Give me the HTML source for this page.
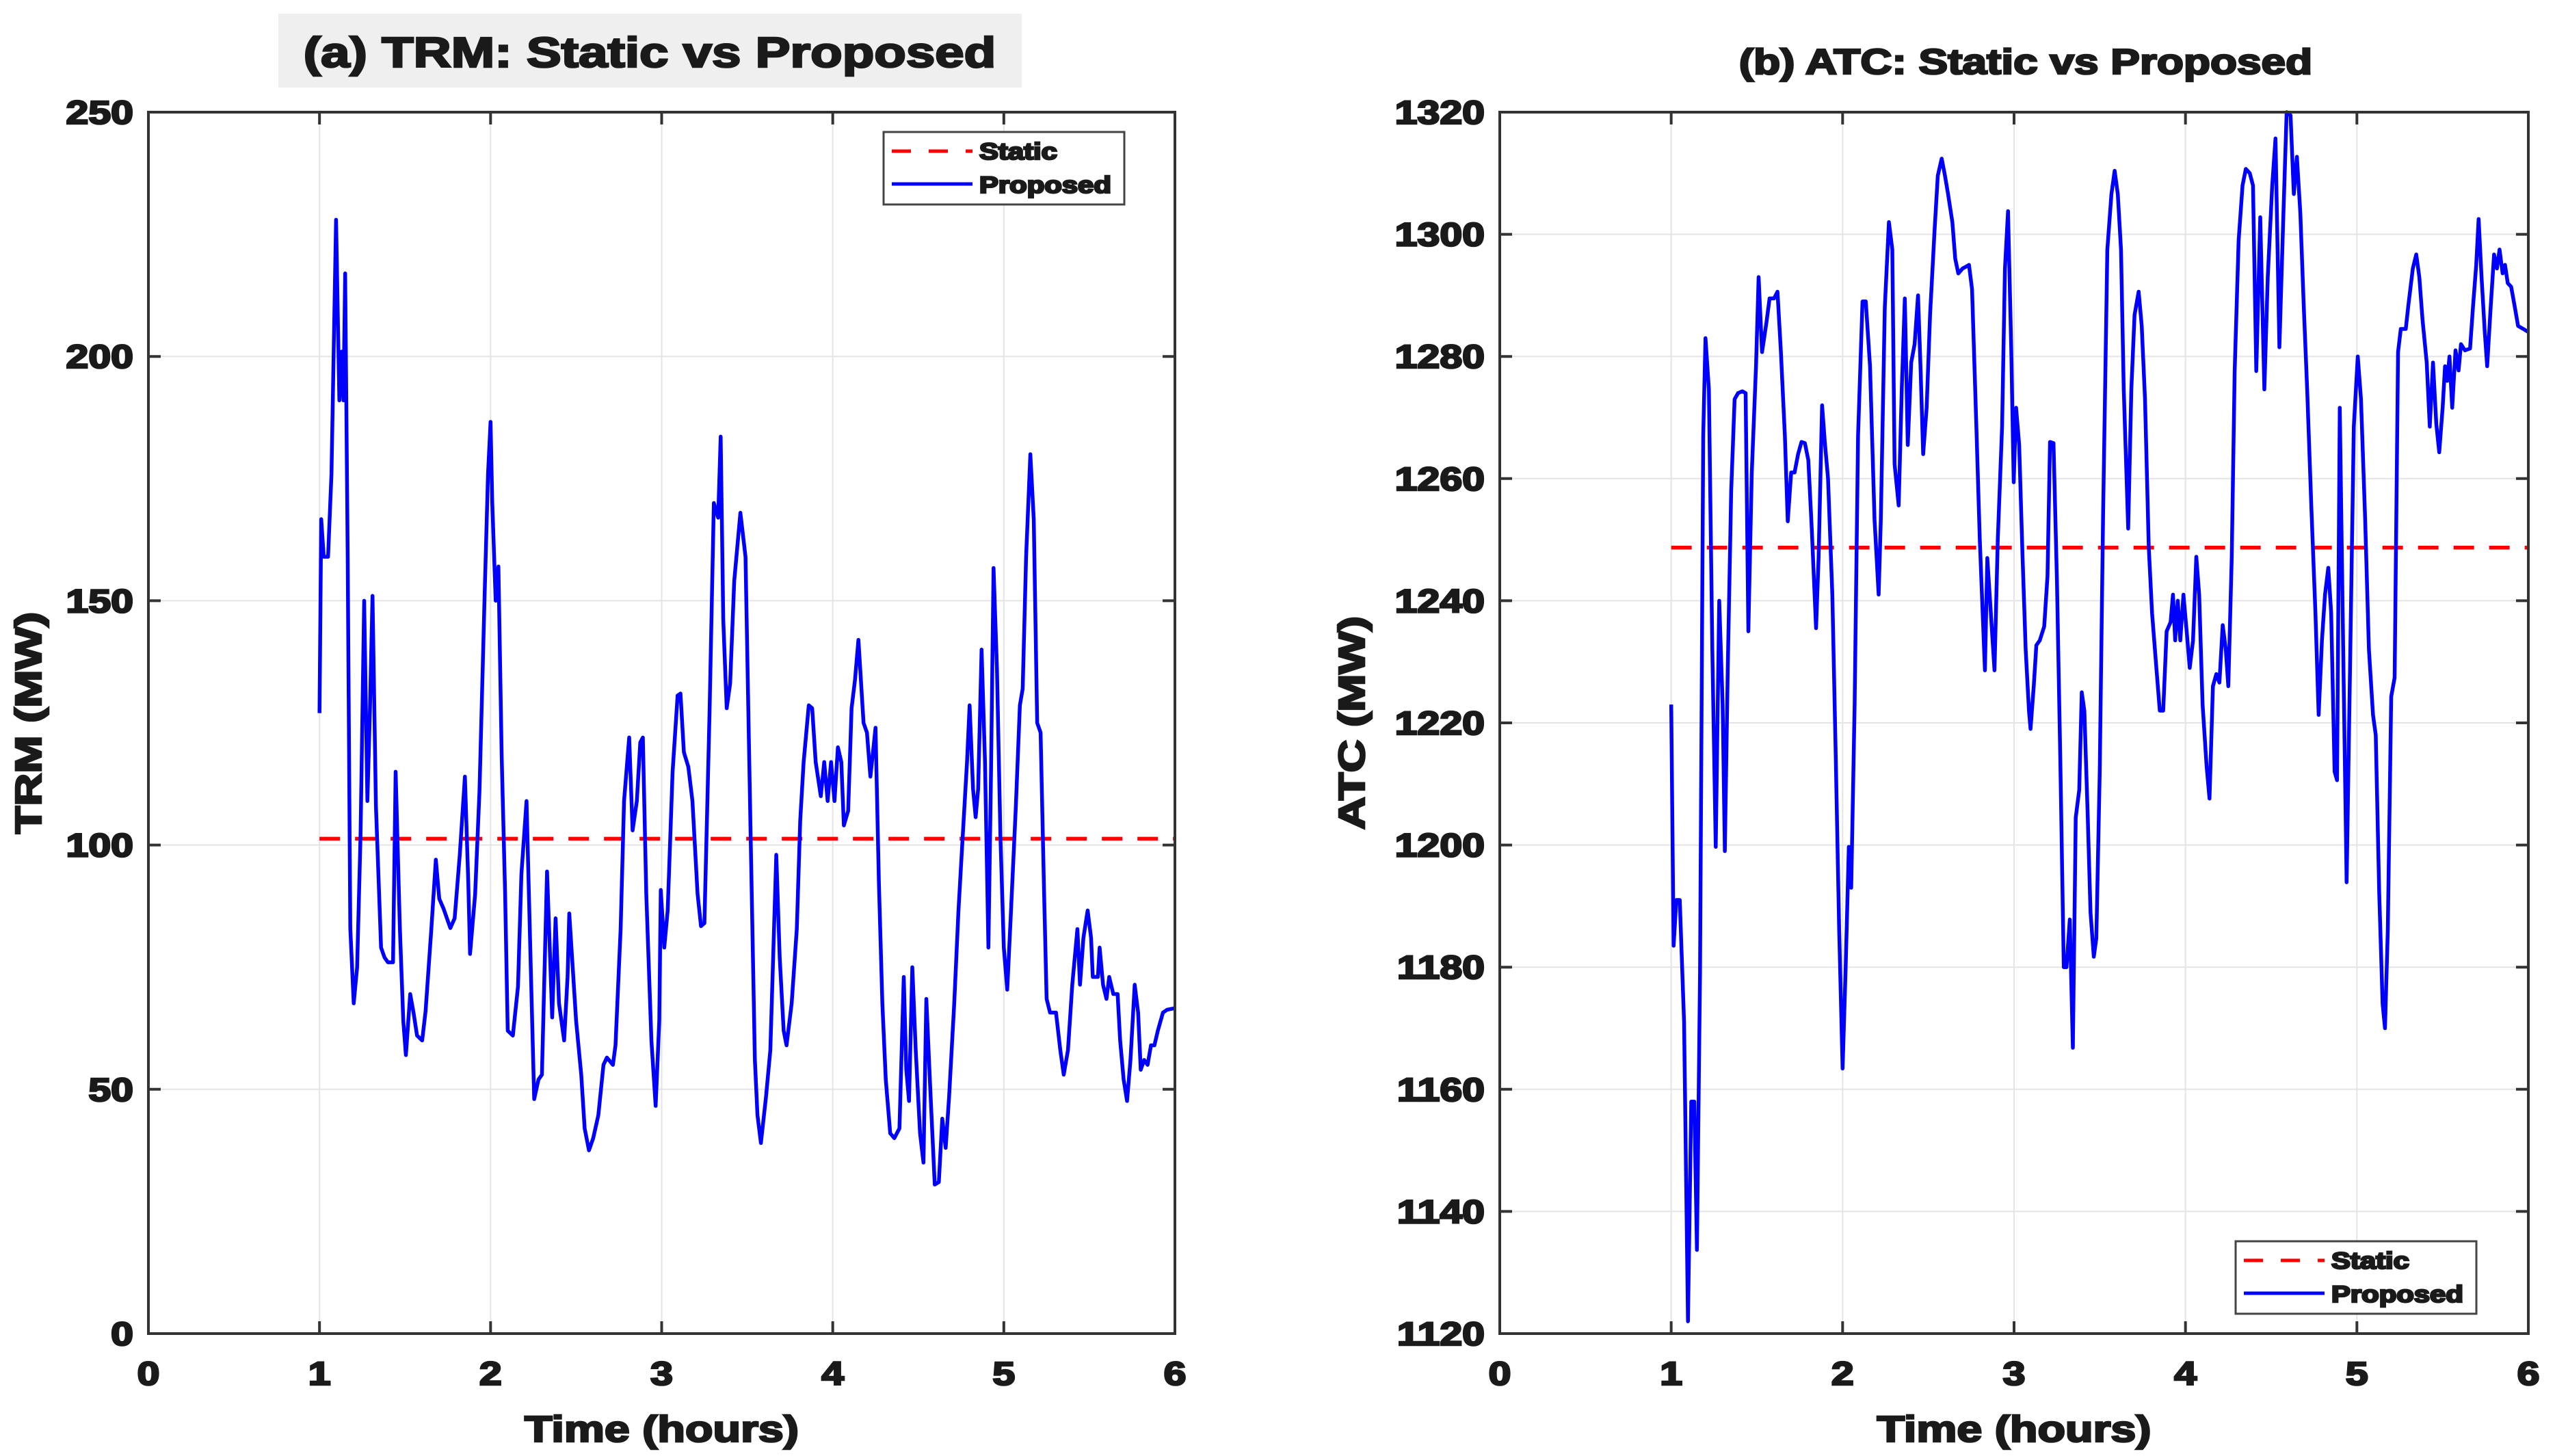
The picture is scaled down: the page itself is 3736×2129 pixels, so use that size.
<!DOCTYPE html>
<html><head><meta charset="utf-8">
<style>
html,body{margin:0;padding:0;background:#fff;}
svg{display:block;}
text{font-family:"Liberation Sans",Arial,sans-serif;font-weight:bold;fill:#1a1a1a;stroke:#1a1a1a;stroke-width:2.6px;}
</style></head>
<body>
<svg id="fig" width="3736" height="2129" viewBox="0 0 3736 2129" xmlns="http://www.w3.org/2000/svg"></svg>
<script>
const xTicks=[0,1,2,3,4,5,6];
const trmYTicks=[0,50,100,150,200,250];
const atcYTicks=[1120,1140,1160,1180,1200,1220,1240,1260,1280,1300,1320];
const trmStatic=101.3;
const atcStatic=1248.7;
const trmTimes=[1.00,1.01,1.025,1.05,1.07,1.097,1.116,1.13,1.14,1.15,1.165,1.18,1.20,1.22,1.24,1.261,1.28,1.295,1.31,1.33,1.36,1.38,1.40,1.43,1.445,1.47,1.49,1.505,1.53,1.55,1.57,1.60,1.62,1.654,1.68,1.70,1.725,1.765,1.79,1.82,1.85,1.87,1.88,1.91,1.935,1.965,1.985,2.00,2.01,2.03,2.046,2.065,2.085,2.10,2.13,2.16,2.18,2.21,2.235,2.255,2.28,2.30,2.33,2.348,2.36,2.38,2.40,2.43,2.45,2.46,2.48,2.50,2.53,2.55,2.575,2.60,2.63,2.66,2.68,2.715,2.73,2.76,2.78,2.81,2.83,2.855,2.875,2.89,2.91,2.94,2.965,2.986,2.995,3.015,3.035,3.064,3.093,3.11,3.13,3.156,3.18,3.21,3.23,3.25,3.28,3.305,3.33,3.345,3.36,3.38,3.40,3.424,3.46,3.49,3.52,3.545,3.56,3.58,3.61,3.635,3.655,3.67,3.69,3.713,3.73,3.76,3.79,3.81,3.83,3.86,3.88,3.90,3.93,3.95,3.97,3.99,4.01,4.03,4.05,4.065,4.09,4.11,4.13,4.15,4.18,4.20,4.22,4.24,4.25,4.27,4.29,4.31,4.336,4.36,4.39,4.415,4.43,4.446,4.465,4.485,4.51,4.53,4.547,4.57,4.596,4.62,4.64,4.66,4.68,4.71,4.735,4.76,4.785,4.80,4.82,4.835,4.85,4.87,4.89,4.91,4.925,4.94,4.96,4.98,5.00,5.02,5.04,5.07,5.094,5.11,5.13,5.155,5.175,5.195,5.215,5.235,5.25,5.27,5.305,5.33,5.35,5.375,5.40,5.43,5.445,5.465,5.49,5.51,5.52,5.55,5.56,5.58,5.60,5.616,5.64,5.665,5.68,5.70,5.72,5.74,5.765,5.785,5.80,5.82,5.84,5.86,5.88,5.90,5.93,5.955,6.00];
const trmValues=[127,166.7,159,159,176,228,191,201,191,217,159,83,67.6,75,102,150,109,128,151,108,79,77,76,76,115,83,64,57,69.5,65.6,61,60,66,83,97,89,87,83,85,98,114,92,77.7,90,111,151,176,186.6,170,150,157,118,90,62,61,71,94,109,75,48,52,53,94.6,77,64.7,85,67.6,60,73,86,75,64,53,42,37.5,40,44.7,55,56.5,55,59,82.8,109,122,103,109,121,122,90,60,46.6,64,90.8,79,86.6,115,130.6,131,119,116,109,90,83.4,84,127,170,167,183.6,146,128,133,154,168,159,102,56,44.7,39,48.5,58,81,98,77,62,59,67.6,82.8,105,117,128.6,128,117,110,117,109,117,109,120,117,104,107,128,133.8,142,125,123,114,120.6,124,92,67.6,52,41,40,42,73,54,47.6,75,58,41,35,68.5,50,30.5,31,44,38,48.5,67.6,86.6,102,117,128.6,111.5,105.7,111.5,140,117,79,115,156.7,136,102,79,70.4,85,107.6,128.6,132,159,180,166.6,125,123,90.8,68.5,65.7,65.7,58,53,58,71.4,82.8,71.4,81,86.6,81,73,73,79,71.4,68.5,73,69.5,69.5,60,52,47.6,56,71.4,65.7,54,56,55,59,59,62,65.7,66.3,66.6];
const atcTimes=[1.00,1.014,1.03,1.05,1.075,1.098,1.117,1.135,1.15,1.168,1.187,1.20,1.22,1.24,1.26,1.28,1.30,1.313,1.33,1.35,1.37,1.39,1.415,1.434,1.45,1.47,1.495,1.51,1.53,1.556,1.574,1.60,1.62,1.64,1.663,1.68,1.70,1.72,1.74,1.76,1.78,1.80,1.82,1.845,1.86,1.88,1.896,1.915,1.94,1.96,1.98,2.00,2.018,2.036,2.05,2.07,2.09,2.116,2.135,2.16,2.186,2.21,2.223,2.246,2.27,2.29,2.303,2.327,2.345,2.363,2.38,2.40,2.42,2.44,2.455,2.47,2.49,2.51,2.536,2.555,2.578,2.597,2.615,2.64,2.657,2.675,2.70,2.72,2.737,2.755,2.78,2.80,2.83,2.844,2.86,2.886,2.905,2.93,2.947,2.965,2.984,2.998,3.012,3.03,3.05,3.068,3.087,3.096,3.115,3.13,3.15,3.176,3.195,3.21,3.23,3.25,3.27,3.29,3.306,3.325,3.343,3.36,3.38,3.395,3.41,3.43,3.446,3.465,3.48,3.50,3.52,3.544,3.568,3.587,3.605,3.624,3.64,3.666,3.684,3.703,3.727,3.745,3.764,3.786,3.805,3.83,3.85,3.87,3.89,3.913,3.927,3.94,3.955,3.97,3.988,4.007,4.025,4.044,4.063,4.08,4.10,4.123,4.14,4.16,4.18,4.198,4.217,4.235,4.25,4.27,4.287,4.31,4.333,4.352,4.375,4.394,4.413,4.436,4.46,4.48,4.506,4.525,4.548,4.57,4.59,4.613,4.632,4.65,4.67,4.69,4.71,4.735,4.758,4.777,4.796,4.814,4.833,4.85,4.87,4.884,4.90,4.92,4.94,4.96,4.982,5.005,5.024,5.048,5.07,5.094,5.11,5.13,5.15,5.164,5.18,5.20,5.22,5.24,5.256,5.285,5.30,5.326,5.346,5.364,5.383,5.407,5.425,5.444,5.463,5.48,5.50,5.514,5.527,5.54,5.556,5.575,5.593,5.607,5.63,5.66,5.677,5.696,5.71,5.727,5.746,5.76,5.78,5.80,5.817,5.832,5.85,5.864,5.88,5.90,5.92,5.94,5.977,6.00];
const atcValues=[1223,1183.5,1191,1191,1171,1122,1158,1158,1133.7,1178.6,1267,1283,1274.6,1232,1199.7,1240,1223,1199,1229,1258,1273,1274,1274.3,1274,1235,1261,1278.4,1293,1280.7,1285.6,1289.5,1289.5,1290.6,1280.7,1267,1253,1261,1261,1264,1266,1265.8,1263,1251.8,1235.5,1247,1272,1266,1260,1241,1214.4,1186,1163.4,1180,1199.7,1193,1223,1267,1289,1289,1278.4,1253.3,1241,1253.3,1288,1302,1297.5,1262.4,1255.6,1274.6,1289.5,1265.5,1279,1282,1290,1277.7,1264,1271.6,1286.8,1300.5,1309.6,1312.4,1309.6,1306.6,1302,1296,1293.6,1294.4,1294.7,1295,1291,1268.5,1250,1228.6,1247,1240,1228.6,1250,1268.5,1294.4,1303.8,1280.7,1259.4,1271.6,1265.5,1247,1232,1222,1219,1226,1232.7,1233.5,1235.8,1244,1266,1265.8,1243.4,1213.7,1180,1180,1187.8,1166.8,1204.5,1209,1225,1222,1204.5,1189,1181.7,1184.7,1212,1254.8,1297.5,1306.6,1310.4,1306.6,1297.5,1274.6,1251.8,1274.6,1286.8,1290.6,1285,1273,1248.7,1238,1229,1222,1222,1235,1236.5,1241,1233.5,1240,1233.5,1241,1235,1229,1233.5,1247.2,1241,1223,1213,1207.6,1226,1228,1226.6,1236,1232,1226,1247,1277.6,1299,1308,1310.7,1310,1308,1277.6,1302.8,1274.6,1293,1308,1315.7,1281.5,1302,1320,1319.5,1306.6,1312.7,1303.5,1288.3,1274.6,1254.8,1238,1221.3,1233.5,1241,1245.4,1238,1212,1210.6,1271.6,1232,1193.9,1229,1268.5,1280,1273,1253.3,1232,1221.3,1218,1192.4,1174,1170,1186,1224.3,1227.4,1280.7,1284.5,1284.5,1288.3,1294.4,1296.7,1293,1286,1279,1268.5,1279,1269,1264.3,1271.6,1278.4,1276,1280,1271.6,1281,1277.7,1282,1281,1281.3,1288,1295,1302.5,1293,1284,1278.4,1288,1296.7,1294.4,1297.5,1293.6,1295,1292,1291.4,1288.3,1285,1284.4,1284];

const NS='http://www.w3.org/2000/svg';
const svg=document.getElementById('fig');
const WIDE=1.23;
function mk(tag,attrs,parent){const e=document.createElementNS(NS,tag);for(const k in attrs)e.setAttribute(k,attrs[k]);(parent||svg).appendChild(e);return e;}
function wtext(parent,x,y,str,size,anchor,rot){
  const tr='translate('+x+','+y+')'+(rot?' rotate(-90)':'')+' scale('+WIDE+',1)';
  const t=mk('text',{x:0,y:0,'text-anchor':anchor,'font-size':size,transform:tr},parent);
  t.textContent=str;
  return t;
}

function drawPanel(cfg){
  const g=mk('g',{});
  
  
  const L=cfg.left,R=cfg.right,T=cfg.top,B=cfg.bottom;
  const sx=t=>L+(t-0)/(6-0)*(R-L);
  const sy=v=>B-(v-cfg.ymin)/(cfg.ymax-cfg.ymin)*(B-T);
  mk('rect',{x:L,y:T,width:R-L,height:B-T,fill:'#fff'},g);
  xTicks.forEach(t=>{
    const gl=mk('line',{x1:sx(t),x2:sx(t),y1:T,y2:B,stroke:'#e4e4e4','stroke-width':2},g);
    
    
  });
  cfg.yticks.forEach(v=>{
    const gl=mk('line',{x1:L,x2:R,y1:sy(v),y2:sy(v),stroke:'#e4e4e4','stroke-width':2},g);
    
    
  });
  const st=mk('line',{x1:sx(1),x2:R,y1:sy(cfg.staticVal),y2:sy(cfg.staticVal),stroke:'#ff0000','stroke-width':5.5,'stroke-dasharray':'30 22'},g);
  
  
  let d='';
  cfg.times.forEach((t,i)=>{d+=(i?'L':'M')+sx(t).toFixed(1)+' '+sy(cfg.values[i]).toFixed(1);});
  const pl=mk('path',{d:d,fill:'none',stroke:'#0000ff','stroke-width':5.5,'stroke-linejoin':'round'},g);
  
  
  const box=mk('rect',{x:L,y:T,width:R-L,height:B-T,fill:'none',stroke:'#333','stroke-width':4},g);
  
  
  xTicks.forEach(t=>{
    mk('line',{x1:sx(t),x2:sx(t),y1:B,y2:B-18,stroke:'#333','stroke-width':4},g);
    mk('line',{x1:sx(t),x2:sx(t),y1:T,y2:T+18,stroke:'#333','stroke-width':4},g);
    const tx=wtext(g,sx(t),B+75,String(t),48,'middle');
    
    
  });
  cfg.yticks.forEach(v=>{
    mk('line',{x1:L,x2:L+18,y1:sy(v),y2:sy(v),stroke:'#333','stroke-width':4},g);
    mk('line',{x1:R,x2:R-18,y1:sy(v),y2:sy(v),stroke:'#333','stroke-width':4},g);
    const tx=wtext(g,L-22,sy(v)+17,String(v),48,'end');
    
    
  });
  const xl=wtext(g,(L+R)/2,2108,'Time (hours)',54,'middle');
  
  
  const yl=wtext(g,cfg.ylabelX,(T+B)/2,cfg.ylabel,54,'middle',true);
  
  
  const lg=mk('g',{},g);
  
  
  const lx=cfg.legX,ly=cfg.legY;
  mk('rect',{x:lx,y:ly,width:352,height:106,fill:'#fff',stroke:'#444','stroke-width':3},lg);
  const ls=mk('line',{x1:lx+12,x2:lx+130,y1:ly+28,y2:ly+28,stroke:'#ff0000','stroke-width':5,'stroke-dasharray':'28 26'},lg);
  
  
  const lp=mk('line',{x1:lx+12,x2:lx+130,y1:ly+76,y2:ly+76,stroke:'#0000ff','stroke-width':5},lg);
  
  
  const t1=wtext(lg,lx+140,ly+40,'Static',34,'start');
  
  
  const t2=wtext(lg,lx+140,ly+89,'Proposed',34,'start');
  
  
}

const tb=mk('rect',{x:407,y:20,width:1087,height:108,fill:'#efefef'});


const t1=wtext(svg,950,98,'(a) TRM: Static vs Proposed',62,'middle');


const t2=wtext(svg,2962,108,'(b) ATC: Static vs Proposed',52,'middle');



drawPanel({name:'trm-panel',left:217,right:1718,top:164,bottom:1950,ymin:0,ymax:250,yticks:trmYTicks,staticVal:trmStatic,times:trmTimes,values:trmValues,ylabel:'TRM (MW)',ylabelX:60,legX:1292,legY:193});
drawPanel({name:'atc-panel',left:2193,right:3697,top:164,bottom:1950,ymin:1120,ymax:1320,yticks:atcYTicks,staticVal:atcStatic,times:atcTimes,values:atcValues,ylabel:'ATC (MW)',ylabelX:1995,legX:3269,legY:1815});
</script>
</body></html>
